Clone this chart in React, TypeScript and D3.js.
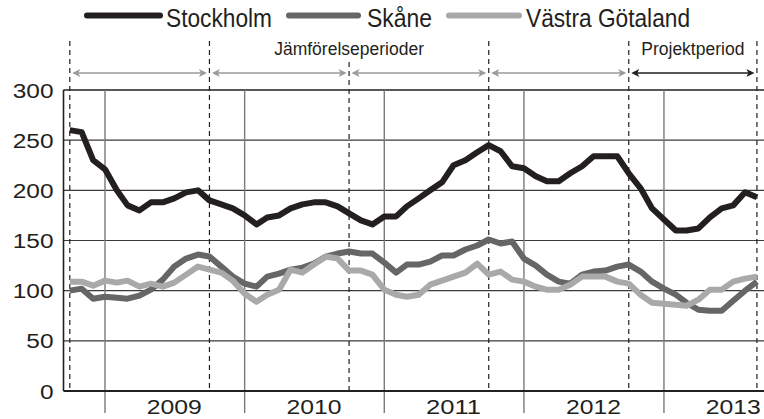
import React from 'react';
import * as d3 from 'd3';

// ---- data ----
const seriesNames = ['Stockholm', 'Skåne', 'Västra Götaland'];
const firstMonth = new Date(2008, 9, 1); // Oct 2008
const lastMonth = new Date(2013, 8, 1); // Sep 2013
const stockholm = [260, 258, 230, 221, 200, 185, 180, 188, 188, 192, 198, 200, 190, 186, 182, 175, 166, 173, 175, 182, 186, 188, 188, 184, 177, 170, 166, 174, 174, 184, 192, 200, 208, 225, 230, 238, 245, 239, 224, 222, 214, 209, 209, 217, 224, 234, 234, 234, 217, 202, 182, 171, 160, 160, 162, 173, 182, 185, 198, 193];
const skane = [100, 102, 92, 94, 93, 92, 95, 101, 111, 124, 132, 136, 134, 124, 114, 107, 104, 114, 117, 121, 123, 127, 134, 137, 139, 137, 137, 128, 118, 126, 126, 129, 135, 135, 141, 145, 151, 147, 149, 132, 125, 116, 109, 107, 116, 119, 120, 124, 126, 119, 109, 102, 96, 88, 81, 80, 80, 90, 100, 109];
const vastraGotaland = [109, 109, 105, 110, 108, 110, 104, 107, 104, 108, 116, 124, 121, 118, 110, 97, 89, 96, 101, 121, 118, 126, 134, 132, 120, 120, 116, 101, 96, 94, 96, 106, 110, 114, 118, 127, 116, 119, 111, 109, 104, 101, 101, 106, 114, 114, 114, 109, 107, 96, 88, 87, 86, 85, 91, 101, 101, 109, 112, 114];
const yTicks = [0, 50, 100, 150, 200, 250, 300];
const years = [2009, 2010, 2011, 2012, 2013];
const periodBounds = [
  new Date(2008, 9, 1),
  new Date(2009, 9, 1),
  new Date(2010, 9, 1),
  new Date(2011, 9, 1),
  new Date(2012, 9, 1),
  new Date(2013, 8, 1),
];
const comparisonLabel = 'Jämförelseperioder';
const projectLabel = 'Projektperiod';

// ---- layout / style ----
const W = 764;
const H = 419;
const colors = ['#231f20', '#666666', '#a9a9aa'];
const legendLayout = [
  { x1: 87, x2: 160, tx: 166, tw: 106 },
  { x1: 289, x2: 358, tx: 367, tw: 65 },
  { x1: 449, x2: 519, tx: 526, tw: 164 },
];
const textFont = "'Liberation Sans', Arial, sans-serif";
const digitAdvance = 13.6;

export default function App() {
  const months = d3.timeMonth.range(firstMonth, d3.timeMonth.offset(lastMonth, 1));
  const x = d3.scaleTime().domain([new Date(2009, 0, 1), new Date(2014, 0, 1)]).range([105, 803.6]);
  const y = d3.scaleLinear().domain([0, 300]).range([391, 90]);
  const left = 63.5;
  const right = W;
  const allSeries = [stockholm, skane, vastraGotaland];
  const line = d3
    .line<number>()
    .x((_, i) => x(months[i]))
    .y((d) => y(d));

  const arrowY = 73;
  const arrow = (xa: number, xb: number, color: string, key: string) => {
    const a = xa + 2.5;
    const b = xb - 2.5;
    return (
      <g key={key}>
        <line x1={a + 5} x2={b - 5} y1={arrowY} y2={arrowY} stroke={color} strokeWidth={1.4} />
        <path d={`M${a},${arrowY}L${a + 8},${arrowY - 4}L${a + 6},${arrowY}L${a + 8},${arrowY + 4}Z`} fill={color} />
        <path d={`M${b},${arrowY}L${b - 8},${arrowY - 4}L${b - 6},${arrowY}L${b - 8},${arrowY + 4}Z`} fill={color} />
      </g>
    );
  };

  const bx = periodBounds.map((d) => x(d));
  const midLabelX = bx[2];

  return (
    <svg width={W} height={H} style={{ position: 'absolute', left: 0, top: 0, background: '#fff' }}>
      {/* legend */}
      {seriesNames.map((name, i) => (
        <g key={name}>
          <line x1={legendLayout[i].x1} x2={legendLayout[i].x2} y1={15.5} y2={15.5} stroke={colors[i]} strokeWidth={6} strokeLinecap="round" />
          <text x={legendLayout[i].tx} y={27} fontFamily={textFont} fontSize={26} textLength={legendLayout[i].tw} lengthAdjust="spacingAndGlyphs" fill="#231f20">
            {name}
          </text>
        </g>
      ))}

      {/* horizontal grid */}
      {yTicks.filter((t) => t > 0).map((t) => (
        <line key={t} x1={left} x2={right} y1={y(t)} y2={y(t)} stroke={t === 300 ? '#231f20' : '#3a3a3a'} strokeWidth={t === 300 ? 1.5 : 1.1} />
      ))}

      {/* year lines */}
      {years.map((yr) => (
        <line key={yr} x1={x(new Date(yr, 0, 1))} x2={x(new Date(yr, 0, 1))} y1={y(300)} y2={413} stroke="#7a7a7a" strokeWidth={1.4} />
      ))}

      {/* period dashed lines */}
      {bx.map((bxv, i) => (
        <line key={i} x1={bxv} x2={bxv} y1={Math.abs(bxv - midLabelX) < 1 ? 62 : 41} y2={y(0)} stroke="#231f20" strokeWidth={1.2} strokeDasharray="5,4" />
      ))}

      {/* period labels and arrows */}
      <text x={midLabelX} y={55} textAnchor="middle" fontFamily={textFont} fontSize={17.5} fill="#231f20">
        {comparisonLabel}
      </text>
      <text x={(bx[4] + bx[5]) / 2} y={55} textAnchor="middle" fontFamily={textFont} fontSize={17.5} fill="#231f20">
        {projectLabel}
      </text>
      {bx.slice(0, 4).map((b, i) => arrow(b, bx[i + 1], '#9a9a9a', 'a' + i))}
      {arrow(bx[4], bx[5], '#231f20', 'p')}

      {/* axes */}
      <line x1={left} x2={left} y1={y(300)} y2={y(0)} stroke="#231f20" strokeWidth={1.6} />
      <line x1={left} x2={right} y1={y(0)} y2={y(0)} stroke="#231f20" strokeWidth={2} />

      {/* y labels */}
      {yTicks.map((t) => (
        <text key={t} x={53.5} y={y(t) + 7.5} textAnchor="end" fontFamily={textFont} fontSize={20} textLength={String(t).length * digitAdvance} lengthAdjust="spacingAndGlyphs" fill="#231f20">
          {t}
        </text>
      ))}

      {/* year labels */}
      {years.map((yr) => (
        <text key={yr} x={x(new Date(yr, 6, 1))} y={413.5} textAnchor="middle" fontFamily={textFont} fontSize={21} textLength={55} lengthAdjust="spacingAndGlyphs" fill="#231f20">
          {yr}
        </text>
      ))}

      {/* series */}
      {allSeries.map((s, i) => (
        <path key={i} d={line(s) || ''} fill="none" stroke={colors[i]} strokeWidth={6} strokeLinejoin="round" strokeLinecap="butt" />
      ))}
    </svg>
  );
}
